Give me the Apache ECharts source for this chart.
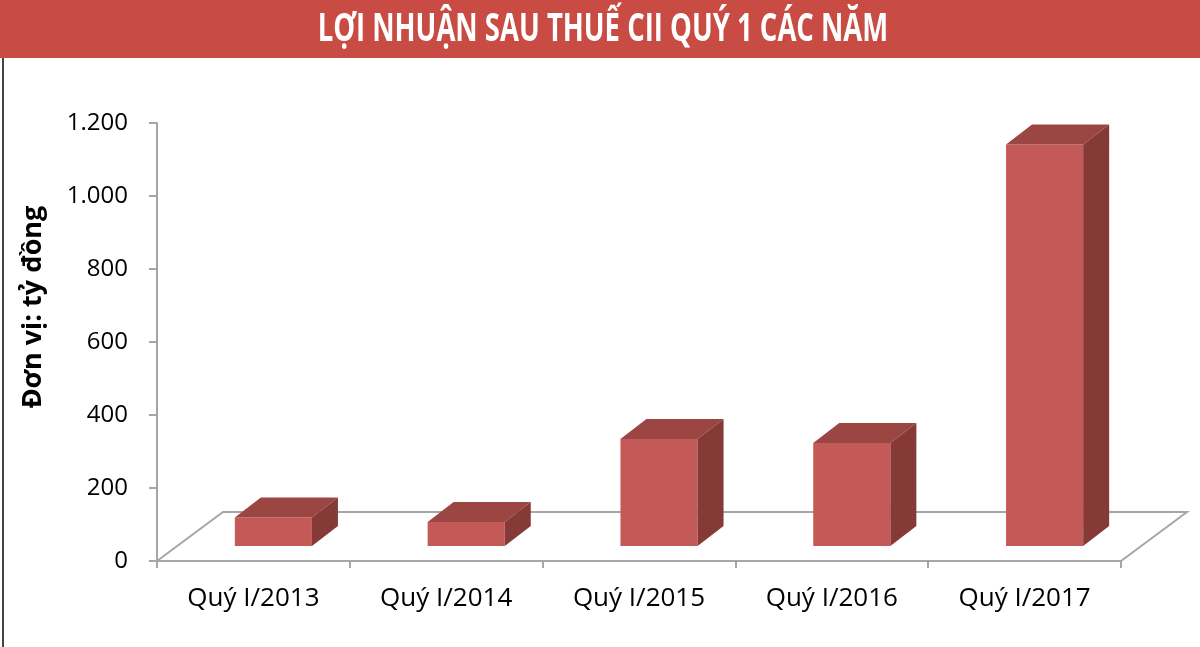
<!DOCTYPE html>
<html>
<head>
<meta charset="utf-8">
<title>Lợi nhuận sau thuế CII quý 1 các năm</title>
<script src="https://cdn.jsdelivr.net/npm/echarts@6/dist/echarts.min.js"></script>
<style>
    html, body { margin: 0; padding: 0; background: #fff; }
    #main { width: 1200px; height: 647px; }
</style>
</head>
<body>
<div id="main"></div>
<script>
// 数据
var categories = ['Quý I/2013', 'Quý I/2014', 'Quý I/2015', 'Quý I/2016', 'Quý I/2017'];
var profit = [78, 66, 293, 282, 1100];
var yMin = 0, yMax = 1200, yStep = 200;
var titleText = 'LỢI NHUẬN SAU THUẾ CII QUÝ 1 CÁC NĂM';
var axisName = 'Đơn vị: tỷ đồng';

(function(){
    // 实例化对象
    var myChart = echarts.init(document.getElementById('main'));

    // fake 3d: floor depth and bar depth in px
    var floorDx = 66, floorDy = -49;
    var shiftX = 20, shiftY = -15;
    var barDx = 26, barDy = -20;
    var frontColor = '#C45A57', topColor = '#9B4643', sideColor = '#863A38';
    var lineColor = '#A6A6A6';
    var font = 'Open Sans';

    function renderFloor(params, api) {
        var cs = params.coordSys;
        var x0 = cs.x, x1 = cs.x + cs.width, y0 = cs.y + cs.height;
        return {
            type: 'polyline',
            shape: { points: [[x0, y0], [x0 + floorDx, y0 + floorDy], [x1 + floorDx, y0 + floorDy], [x1, y0]] },
            style: { stroke: lineColor, lineWidth: 2, fill: null }
        };
    }

    function renderBar(params, api) {
        var base = api.coord([api.value(0), 0]);
        var top = api.coord([api.value(0), api.value(1)]);
        var bw = api.size([1, 0])[0] * 0.4;
        var cx = base[0] + shiftX;
        var x0 = cx - bw / 2, x1 = cx + bw / 2;
        var yb = base[1] + shiftY, yt = top[1] + shiftY;
        return {
            type: 'group',
            children: [
                { type: 'rect', shape: { x: x0, y: yt, width: bw, height: yb - yt }, style: { fill: frontColor } },
                { type: 'polygon', shape: { points: [[x0, yt], [x1, yt], [x1 + barDx, yt + barDy], [x0 + barDx, yt + barDy]] }, style: { fill: topColor } },
                { type: 'polygon', shape: { points: [[x1, yt], [x1 + barDx, yt + barDy], [x1 + barDx, yb + barDy], [x1, yb]] }, style: { fill: sideColor } }
            ]
        };
    }

    // 指定配置和数据
    var option = {
        animation: false,
        grid: {
            left: 157,
            right: 79,
            top: 123,
            bottom: 86,
            containLabel: false,
            outerBoundsMode: 'none'
        },
        graphic: [
            { type: 'rect', left: 0, top: 0, shape: { width: 1200, height: 58 }, style: { fill: '#C84B44' } },
            {
                type: 'text', x: 603, y: 30, scaleX: 0.705,
                style: {
                    text: titleText, x: 0, y: 0, align: 'center', verticalAlign: 'middle',
                    fill: '#fff', font: 'bold 39px "Open Sans"'
                }
            },
            {
                // axis name, rotated
                type: 'text', x: 33, y: 307, rotation: Math.PI / 2,
                style: {
                    text: axisName, x: 0, y: 0, align: 'center', verticalAlign: 'middle',
                    fill: '#000', font: 'bold 27px "Open Sans"'
                }
            },
            { type: 'line', shape: { x1: 3, y1: 58, x2: 3, y2: 647 }, style: { stroke: '#444', lineWidth: 2 } }
        ],
        xAxis: {
            type: 'category',
            data: categories,
            axisLine: { lineStyle: { color: lineColor, width: 2 } },
            axisTick: { show: true, length: 7, lineStyle: { color: lineColor, width: 2 } },
            axisLabel: { color: '#000', fontSize: 26, fontFamily: font, margin: 25 }
        },
        yAxis: {
            type: 'value',
            min: yMin,
            max: yMax,
            interval: yStep,
            splitLine: { show: false },
            axisLine: { show: true, lineStyle: { color: lineColor, width: 2 } },
            axisTick: { show: true, length: 8, lineStyle: { color: lineColor, width: 2 } },
            axisLabel: {
                color: '#000', fontSize: 24, fontFamily: font, margin: 29,
                formatter: function (v) { return String(v).replace(/\B(?=(\d{3})+(?!\d))/g, '.'); }
            }
        },
        series: [
            {
                type: 'custom',
                renderItem: renderFloor,
                data: [[0, 0]],
                z: 1,
                silent: true
            },
            {
                type: 'custom',
                renderItem: renderBar,
                encode: { x: 0, y: 1 },
                data: profit.map(function (v, i) { return [i, v]; }),
                z: 3
            }
        ]
    };
    // 配置项给实例对象
    myChart.setOption(option);
})();
</script>
</body>
</html>
